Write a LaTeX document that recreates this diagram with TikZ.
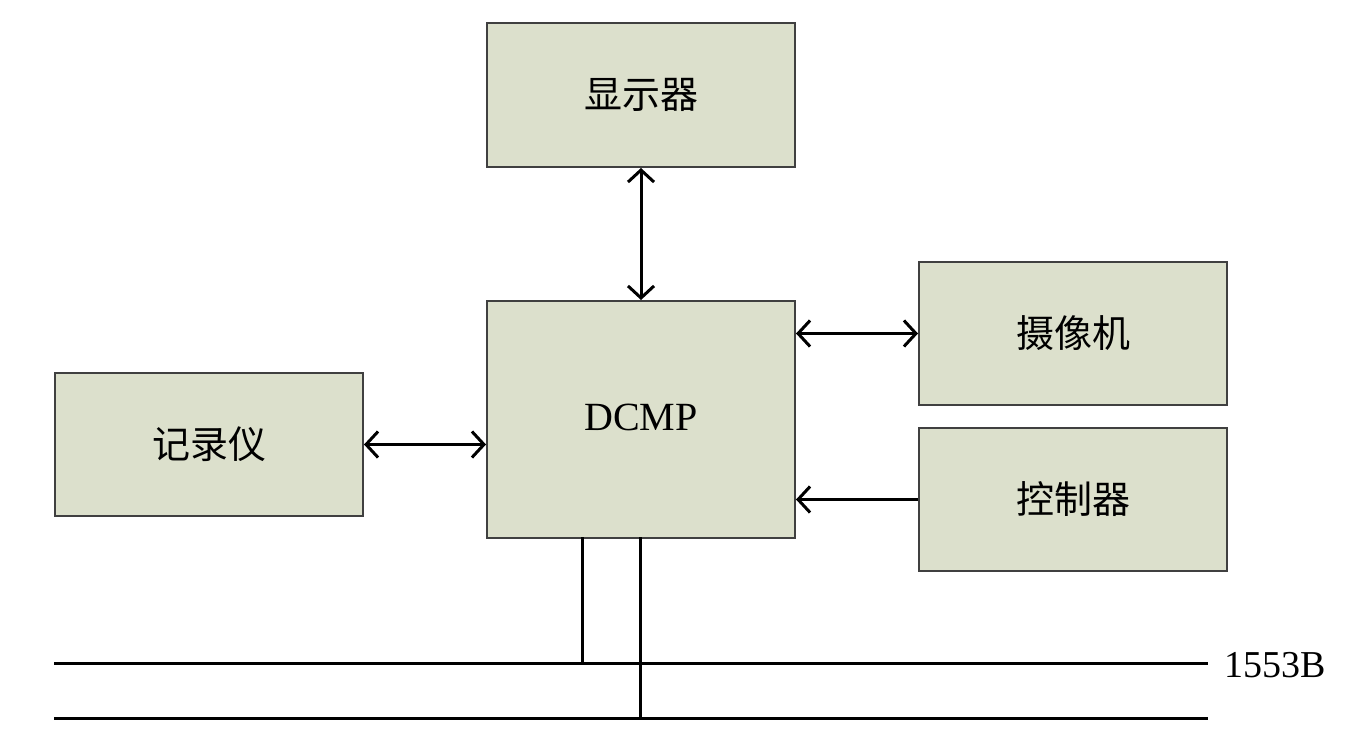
\documentclass[tikz,border=0pt]{standalone}
\usepackage{fontspec}
\setmainfont{Liberation Serif}
\newfontfamily\cjk{Noto Sans CJK SC}
\usetikzlibrary{arrows.meta}
\begin{document}
\begin{tikzpicture}[x=1pt,y=-1pt,
  blk/.style={draw=black!75, line width=2pt, fill=boxfill, minimum width=308pt, inner sep=0pt, anchor=north west},
  lbl/.style={font=\cjk\fontsize{38}{44}\selectfont},
  conn/.style={line width=3pt, black},
  tip/.style={-{Straight Barb[length=12pt,width=26pt,line width=3pt]}},
  both/.style={{Straight Barb[length=12pt,width=26pt,line width=3pt]}-{Straight Barb[length=12pt,width=26pt,line width=3pt]}}
]
\definecolor{boxfill}{RGB}{220,224,204}
\useasboundingbox (0,0) rectangle (1354,739);
\node[blk, minimum height=144pt] (disp) at (486,22) {};
\node[lbl] at (disp.center) {显示器};
\node[blk, minimum height=237pt] (dcmp) at (486,300) {};
\node[font=\fontsize{40}{46}\selectfont] at ([yshift=2pt]dcmp.center) {DCMP};
\node[blk, minimum height=143pt] (cam) at (918,261) {};
\node[lbl] at (cam.center) {摄像机};
\node[blk, minimum height=143pt] (ctrl) at (918,427) {};
\node[lbl] at (ctrl.center) {控制器};
\node[blk, minimum height=143pt] (rec) at (54,372) {};
\node[lbl] at (rec.center) {记录仪};

\draw[conn, both] (disp.south) -- (dcmp.north);
\draw[conn, both] (dcmp.east |- cam.west) -- (cam.west);
\draw[conn, tip] (ctrl.west) -- (ctrl.west -| dcmp.east);
\draw[conn, both] (rec.east) -- (rec.east -| dcmp.west);

\coordinate (b1l) at (54,663);
\coordinate (b1r) at (1208,663);
\coordinate (b2l) at (54,718);
\coordinate (b2r) at (1208,718);
\draw[conn] (b1l) -- (b1r);
\draw[conn] (b2l) -- (b2r);
\coordinate (d1) at (582,537);
\coordinate (d2) at (640,537);
\draw[conn] (d1) -- (d1 |- b1l);
\draw[conn] (d2) -- (d2 |- b2l);
\node[font=\fontsize{38}{44}\selectfont, anchor=west, inner sep=0pt] (busl) at (1224,665) {1553B};
\end{tikzpicture}
\end{document}
